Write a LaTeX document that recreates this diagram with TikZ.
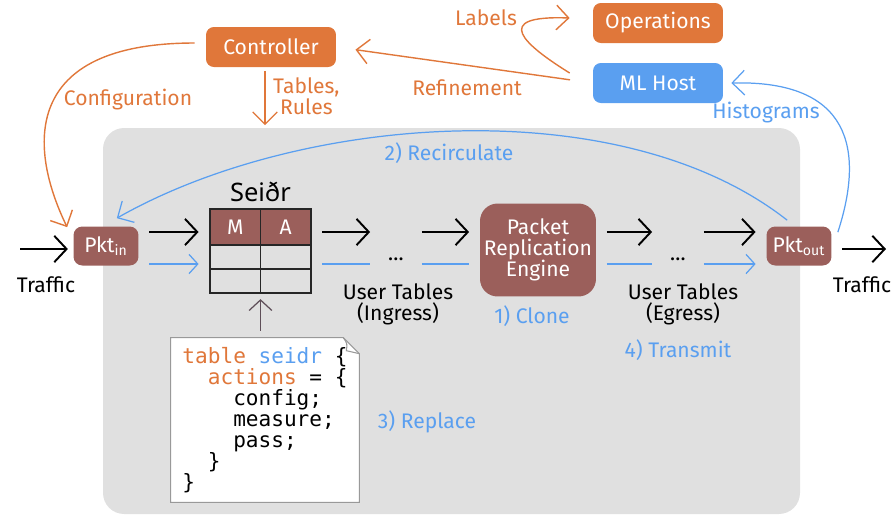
\documentclass[tikz,border=0pt]{standalone}
\usepackage{fontspec}
\setmainfont{Fira Sans}
\setmonofont{DejaVu Sans Mono}
\newfontfamily\runefont{Noto Sans}
\usepackage{xcolor}
\usepackage{tikz}
\usetikzlibrary{arrows.meta,calc,positioning,matrix,backgrounds}
\definecolor{ctrlorange}{HTML}{E0773A}
\definecolor{hostblue}{HTML}{5A9FF0}
\definecolor{pktbrown}{HTML}{9B5F5B}
\definecolor{switchgray}{HTML}{E0E0E0}
\definecolor{codegray}{HTML}{5E4E58}
\tikzset{base box/.style={rounded corners=4.5pt,text=white,minimum width=2.6cm,minimum height=0.8cm,inner sep=2pt},
	orange box/.style={base box,fill=ctrlorange},blue box/.style={base box,fill=hostblue},
	pkt box/.style={base box,fill=pktbrown,minimum width=1.3cm,minimum height=0.78cm,rounded corners=5pt},
	flow/.style={line width=1.1pt,-{Straight Barb[length=7pt,width=15pt]},shorten <=6pt,shorten >=6pt},
	copy flow/.style={hostblue,line width=0.7pt,shorten <=6pt,shorten >=6pt},
	copy arrow/.style={copy flow,-{Straight Barb[length=5pt,width=11pt]}},
	orange line/.style={ctrlorange,line width=0.8pt,-{Straight Barb[length=7pt,width=14pt]}},
	blue line/.style={hostblue,line width=0.7pt,-{Straight Barb[length=7pt,width=14pt]}},
	gray line/.style={codegray,line width=0.7pt,-{Straight Barb[length=6pt,width=13pt]}},
	orange label/.style={text=ctrlorange},blue label/.style={text=hostblue}}

\begin{document}
\begin{tikzpicture}[x=0.02cm,y=-0.02cm,font=\fontsize{12}{12}\selectfont]
			\useasboundingbox (0,0) rectangle (894,515);
			% hosts
			\node[orange box] (ctrl) at (271,47) {Controller};
			\node[orange box] (ops) at (658,23) {Operations};
			\node[blue box] (ml) at (658,83) {ML Host};
			% pipeline
			\node[pkt box] (pktin) at (106,246) {Pkt\textsubscript{in}};
			\node[pkt box] (pktout) at (799,246) {Pkt\textsubscript{out}};
			\matrix[matrix of nodes,nodes in empty cells,inner sep=0pt,column sep=-0.6pt,row sep=-0.6pt,
				nodes={draw=black!85,line width=0.6pt,minimum width=1.01cm,minimum height=0.48cm,inner sep=0pt},
				row 1/.style={nodes={fill=pktbrown,text=white,minimum height=0.72cm}}] (seidr) at (260.5,251) {
				M & A \\
				  &   \\
				  &   \\
			};
			\node[above=0pt of seidr,font=\runefont\fontsize{14.5}{14.5}\selectfont] (seidrname) {Seiðr};
			\node[minimum width=0.6cm,inner sep=0pt] (dotsin) at (396,259) {\ldots};
			\node[minimum width=0.6cm,inner sep=0pt] (dotsout) at (678,259) {\ldots};
			\node[pkt box,minimum width=2.32cm,minimum height=1.86cm,rounded corners=10pt,align=center] (pre) at (538,250) {Packet\\Replication\\Engine};
			\node[align=center] (ingress) at (398,304) {User Tables\\(Ingress)};
			\node[align=center] (egress) at (683,304) {User Tables\\(Egress)};
			\node[align=left,font=\ttfamily\fontsize{12}{12}\selectfont,minimum width=3.76cm,minimum height=3.28cm] (code) at (265,420) {%
				\textcolor{ctrlorange}{table} \textcolor{hostblue}{seidr} \{\\
				\phantom{xx}\textcolor{ctrlorange}{actions} = \{\\
				\phantom{xxxx}config;\\
				\phantom{xxxx}measure;\\
				\phantom{xxxx}pass;\\
				\phantom{xx}\}\\
				\}};
			% labels
			\node[orange label] (labels) at (486,18) {Labels};
			\node[orange label] (refine) at (467,88) {Refinement};
			\node[orange label] (config) at (128,100) {Configuration};
			\node[blue label] (histo) at (766,113) {Histograms};
			\node[blue label] (recirc) at (449,153) {2) Recirculate};
			\node[blue label] (clone) at (532,316) {1) Clone};
			\node[blue label] (transmit) at (678,350) {4) Transmit};
			\node[blue label] (replace) at (427,422) {3) Replace};
			\node (trafinname) at (46,285) {Traffic};
			\node (trafoutname) at (862,285) {Traffic};
			\coordinate (hi) at (0,232);
			\coordinate (lo) at (0,264);
			\coordinate (trafin) at (20,249);
			\coordinate (trafout) at (886,249);
			\coordinate (tabin) at (265,125);
			% switch area and code sheet
			\begin{scope}[on background layer]
				\fill[switchgray,rounded corners=12pt] (103,128) rectangle (800,514);
				\draw[black!40,line width=0.6pt,fill=white] (code.south west) -- (code.north west) -- ($(code.north east)+(-16,0)$)
					-- ($(code.north east)+(0,16)$) -- (code.south east) -- cycle;
				\draw[black!40,line width=0.6pt] ($(code.north east)+(-16,0)$) .. controls ($(code.north east)+(-12,6)$) .. ($(code.north east)+(-13,13)$) -- ($(code.north east)+(0,16)$);
			\end{scope}
			% packets
			\foreach \a/\b in {pktin/seidr,seidr/dotsin,dotsin/pre,pre/dotsout,dotsout/pktout}
				\draw[flow] (\a.east |- hi) -- (\b.west |- hi);
			\draw[copy arrow] (pktin.east |- lo) -- (seidr.west |- lo);
			\foreach \a/\b in {seidr/dotsin,dotsin/pre,pre/dotsout}
				\draw[copy flow] (\a.east |- lo) -- (\b.west |- lo);
			\draw[copy arrow] (dotsout.east |- lo) -- (pktout.west |- lo);
			\draw[flow,shorten <=0pt,shorten >=3pt] (trafin) -- (pktin.west |- trafin);
			\draw[flow,shorten >=0pt] (pktout.east |- trafout) -- (trafout);
			\draw[gray line,shorten <=4pt,shorten >=3pt] (seidr.south |- code.north) -- (seidr.south);
			% control loop
			\draw[orange line,line width=0.7pt,shorten <=2pt] (ctrl.south -| tabin) -- (tabin) node[midway,right=1pt,align=center,orange label] (rules) {Tables,\\Rules};
			\draw[orange line,shorten <=13pt,shorten >=11pt] (ml.west) -- (ctrl.east);
			\draw[orange line] ($(ctrl.west)+(-11,-4)$) .. controls +(-175,0) and +(-38,-78) .. ($(pktin.north west)+(-6,1)$);
			\draw[orange line] ($(ml.west)+(-23,-10)$) .. controls +(-45,-28) and +(-80,-3) .. ($(ops.west)+(-23,-5)$);
			\draw[blue line] ($(pktout.north east)+(6,6)$) .. controls +(27,-83) and +(119,-3) .. ($(ml.east)+(8,0)$);
			\draw[blue line] ($(pktout.north west)+(21,-6)$) .. controls +(-167,-131) and +(183,-104) .. ($(pktin.north east)+(-22,-8)$);
		\end{tikzpicture}
\end{document}
